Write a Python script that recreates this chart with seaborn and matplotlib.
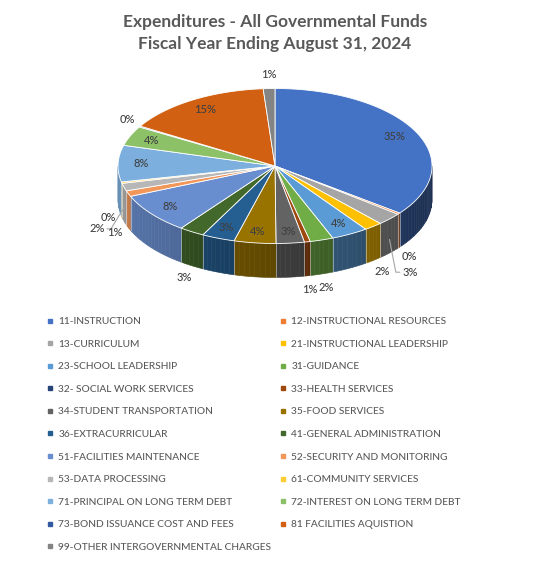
import numpy as np
import matplotlib
matplotlib.use("Agg")
import matplotlib.pyplot as plt
from matplotlib.colors import to_rgb
from matplotlib.lines import Line2D
import seaborn as sns

# Functions, in legend / slice order (clockwise from 12 o'clock)
categories = [
    "11-INSTRUCTION", "12-INSTRUCTIONAL RESOURCES", "13-CURRICULUM",
    "21-INSTRUCTIONAL LEADERSHIP", "23-SCHOOL LEADERSHIP", "31-GUIDANCE",
    "32- SOCIAL WORK SERVICES", "33-HEALTH SERVICES", "34-STUDENT TRANSPORTATION",
    "35-FOOD SERVICES", "36-EXTRACURRICULAR", "41-GENERAL ADMINISTRATION",
    "51-FACILITIES MAINTENANCE", "52-SECURITY AND MONITORING", "53-DATA PROCESSING",
    "61-COMMUNITY SERVICES", "71-PRINCIPAL ON LONG TERM DEBT",
    "72-INTEREST ON LONG TERM DEBT", "73-BOND ISSUANCE COST AND FEES",
    "81 FACILITIES AQUISTION", "99-OTHER INTERGOVERNMENTAL CHARGES",
]
# share of expenditures in percent
shares = [35.4, 0.3, 2.6, 1.9, 3.8, 2.4, 0.0, 0.6, 2.9, 4.3, 3.4, 2.6,
          8.4, 1.2, 1.6, 0.3, 7.6, 4.1, 0.2, 15.2, 1.2]

office_colors = [
    "#4472C4", "#ED7D31", "#A5A5A5", "#FFC000", "#5B9BD5", "#70AD47",
    "#264478", "#9E480E", "#636363", "#997300", "#255E91", "#43682B",
    "#698ED0", "#F1975A", "#B7B7B7", "#FFCD33", "#7CAFDD", "#8CC168",
    "#335AA1", "#D26012", "#848484",
]

title = "Expenditures - All Governmental Funds\nFiscal Year Ending August 31, 2024"

# pie geometry in pixels
CX, CY, RX, RY, DEPTH = 275, 166, 157, 77.5, 34
TEXT_GREY = "#595959"


def ellipse_xy(t_deg, r=1.0):
    t = np.radians(t_deg)
    return CX + RX * r * np.sin(t), CY - RY * r * np.cos(t)


def shade(color, t_deg):
    # lighter on the left wall, darker on the right one
    f = 0.62 - 0.2 * np.sin(np.radians(t_deg))
    return tuple(np.clip(np.array(to_rgb(color)) * f, 0, 1))


def main():
    sns.set_theme(style="white")
    plt.rcParams["font.family"] = ["Lato", "DejaVu Sans"]

    fig = plt.figure(figsize=(5.53, 5.64), dpi=100)
    ax = fig.add_axes([0, 0, 1, 1])
    ax.set_xlim(0, 553)
    ax.set_ylim(564, 0)
    ax.axis("off")

    vals = np.array(shares, dtype=float)
    total = vals.sum()
    ends = np.cumsum(vals) / total * 360
    starts = ends - vals / total * 360

    # side walls (front half only)
    for i, (t0, t1) in enumerate(zip(starts, ends)):
        if vals[i] <= 0:
            continue
        a, b = max(t0, 90), min(t1, 270)
        if b <= a:
            continue
        edges = np.linspace(a, b, max(2, int((b - a) / 2) + 2))
        for s0, s1 in zip(edges[:-1], edges[1:]):
            ts = np.linspace(s0, s1, 4)
            xs, ys = ellipse_xy(ts)
            px = np.concatenate([xs, xs[::-1]])
            py = np.concatenate([ys, ys[::-1] + DEPTH])
            c = shade(office_colors[i], (s0 + s1) / 2)
            ax.fill(px, py, facecolor=c, edgecolor=c, linewidth=0.4, zorder=2)
    for t in starts[vals > 0]:
        if 90 < t < 270:
            x, y = ellipse_xy(t)
            ax.plot([x, x], [y, y + DEPTH], color="white", alpha=0.45,
                    linewidth=0.7, zorder=2.5)

    # top faces
    for i, (t0, t1) in enumerate(zip(starts, ends)):
        if vals[i] <= 0:
            continue
        ts = np.linspace(t0, t1, max(2, int(t1 - t0) + 2))
        xs, ys = ellipse_xy(ts)
        ax.fill(np.r_[CX, xs], np.r_[CY, ys], facecolor=office_colors[i],
                edgecolor="white", linewidth=0.6, zorder=3)

    # percentage labels
    placed = []
    box_w, box_h = 14, 11
    gap = 14

    def free(x, y):
        return all(abs(x - px) >= box_w or abs(y - py) >= box_h for px, py in placed)

    for i, (t0, t1) in enumerate(zip(starts, ends)):
        if vals[i] <= 0:
            continue
        pct = vals[i] / total * 100
        txt = f"{pct:.0f}%"
        mid = (t0 + t1) / 2
        if pct >= 2.8:
            x, y = ellipse_xy(mid, 0.85)
            ax.text(x, y, txt, ha="center", va="center", fontsize=8,
                    fontweight="medium", color="#404040", zorder=5)
            continue
        s, c = np.sin(np.radians(mid)), np.cos(np.radians(mid))
        ex, ey = ellipse_xy(mid)
        if c < 0:
            ey += DEPTH

        cands = [(1, 0), (2, 0)]
        for k in range(1, 16):
            cands += [(1, -2 * k), (1, 2 * k)]
        for n, dy in cands:
            x = ex + n * gap * s
            y = ey - n * gap * c + dy
            if free(x, y):
                break
        placed.append((x, y))
        ax.text(x, y, txt, ha="center", va="center", fontsize=8,
                fontweight="medium", color="#404040", zorder=5)
        if n > 1:
            x0, y0 = ellipse_xy(mid)
            y0 += DEPTH * 0.6 if c < 0 else 0
            side = 1 if x > CX else -1
            xe = x - side * 10
            ax.plot([x0, xe - side * 4, xe], [y0, y, y],
                    color="#a6a6a6", linewidth=0.8, zorder=4)

    ax.text(275, 33, title, ha="center", va="center", fontsize=12.5,
            fontweight="bold", color=TEXT_GREY, linespacing=1.4)

    # legend, row-wise like the original (two columns)
    handles = [Line2D([], [], marker="s", linestyle="", color=c, markersize=3.2)
               for c in office_colors]
    order = list(range(0, len(categories), 2)) + list(range(1, len(categories), 2))
    leg = ax.legend([handles[k] for k in order], [categories[k] for k in order],
                    ncol=2, loc="upper left", bbox_to_anchor=(47 / 553, 1 - 317 / 564),
                    frameon=False, fontsize=7.3, labelcolor=TEXT_GREY,
                    handlelength=0.6, handletextpad=0.5, columnspacing=0.9,
                    labelspacing=1.33, borderpad=0, borderaxespad=0)
    for t in leg.get_texts():
        t.set_fontweight("medium")

    fig.savefig("out.png", dpi=100)
    plt.close(fig)


if __name__ == "__main__":
    main()
